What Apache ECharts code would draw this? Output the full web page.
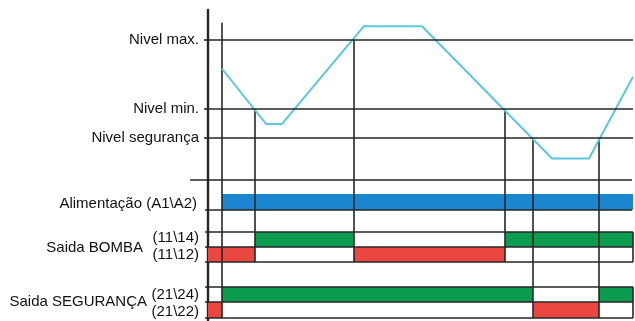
<!DOCTYPE html>
<html>
<head>
<meta charset="utf-8">
<script src="https://cdn.jsdelivr.net/npm/echarts@6/dist/echarts.min.js"></script>
<style>html,body{margin:0;padding:0;background:#fff}#c{width:635px;height:321px}</style>
</head>
<body>
<div id="c"></div>
<script>
// ---------- data ----------
const levelNames  = ['Nivel max.', 'Nivel min.', 'Nivel segurança'];
const levelValues = [100, 40, 15];
// water level curve: time, level
const curveTime  = [14, 58, 74, 156, 214, 344, 381, 425];
const curveLevel = [75, 27, 27, 112, 112, -3, -3, 68];
// switching events (time) and level where each marker starts
const eventTime  = [14, 47, 146, 297, 325, 391];
const eventLevel = [115, 40, 100, 40, 15, 15];
const eventGroup = [2, 1, 1, 1, 2, 2]; // 1 = BOMBA, 2 = SEGURANÇA
// output states (on intervals)
const supplyOn = [[14, 425]];
const pump1114 = [[47, 146], [297, 425]];
const pump1112 = [[0, 47], [146, 297]];
const safe2124 = [[14, 325], [391, 425]];
const safe2122 = [[0, 14], [325, 391]];
const rowLabels = ['Alimentação (A1\\A2)', 'Saida BOMBA', '(11\\14)', '(11\\12)', 'Saida SEGURANÇA', '(21\\24)', '(21\\22)'];

// ---------- layout ----------
const TMAX = 425;
const K = 1.15; // px per level unit
const G0_TOP = 10, G0_H = 170;
const LV_MAX = 100 + (40 - G0_TOP) / K;
const LV_MIN = 40 - (G0_TOP + G0_H - 109) / K;
const FONT = "'Liberation Sans',Arial,sans-serif";
const FS = 15;
const INK = '#262626';
const TXT = '#111111';
// row bands in grid1 (px offsets from grid1 top)
const rowBand = {
  supply: [14, 30], p14: [52, 67], p12: [67, 82], s24: [107, 122], s22: [122, 138]
};
const groupBottom = {1: 82, 2: 138};
const rowLabelPos = [24, 68, 58, 75, 122, 115, 132];

const bars = [];
supplyOn.forEach(d => bars.push([d[0], d[1], 'supply', '#1b86cf']));
pump1114.forEach(d => bars.push([d[0], d[1], 'p14', '#0c9c4f']));
pump1112.forEach(d => bars.push([d[0], d[1], 'p12', '#e9473f']));
safe2124.forEach(d => bars.push([d[0], d[1], 's24', '#0c9c4f']));
safe2122.forEach(d => bars.push([d[0], d[1], 's22', '#e9473f']));

const chart = echarts.init(document.getElementById('c'), null, {renderer: 'canvas'});

function line(p1, p2, w) {
  return {type: 'line', shape: {x1: p1[0], y1: p1[1], x2: p2[0], y2: p2[1]},
          style: {stroke: INK, lineWidth: w || 1.6}, silent: true};
}

chart.setOption({
  animation: false,
  grid: [
    {left: 208, width: 425, top: G0_TOP, height: G0_H, containLabel: false, outerBoundsMode: 'none'},
    {left: 208, width: 425, top: G0_TOP + G0_H, height: 321 - G0_TOP - G0_H, containLabel: false, outerBoundsMode: 'none'}
  ],
  xAxis: [
    {gridIndex: 0, type: 'value', min: 0, max: TMAX, show: false},
    {gridIndex: 1, type: 'value', min: 0, max: TMAX, show: false}
  ],
  yAxis: [
    {gridIndex: 0, type: 'value', min: LV_MIN, max: LV_MAX,
     axisLine: {show: true, lineStyle: {color: INK, width: 2.4}},
     axisTick: {show: true, customValues: levelValues, length: 4, lineStyle: {color: INK, width: 1.6}},
     splitLine: {show: false},
     axisLabel: {customValues: levelValues, margin: 9, color: TXT, fontFamily: FONT, fontSize: FS,
       hideOverlap: false, showMinLabel: true, showMaxLabel: true,
       formatter: v => levelNames[levelValues.indexOf(v)]}},
    {gridIndex: 1, type: 'value', min: 0, max: 321 - G0_TOP - G0_H, inverse: true,
     axisLine: {show: true, lineStyle: {color: INK, width: 2.4}},
     axisTick: {show: false}, splitLine: {show: false},
     axisLabel: {customValues: rowLabelPos, margin: 9, color: TXT, fontFamily: FONT, fontSize: FS,
       hideOverlap: false, showMinLabel: true, showMaxLabel: true,
       formatter: v => {
         const i = rowLabelPos.indexOf(v);
         if (i === 1) return '{b|' + rowLabels[i] + '}';
         if (i === 4) return '{s|' + rowLabels[i] + '}';
         if (i === 0) return '{a|' + rowLabels[i] + '}';
         return rowLabels[i];
       },
       rich: {
         a: {fontFamily: FONT, fontSize: FS, color: TXT, padding: [0, 2, 0, 0]},
         b: {fontFamily: FONT, fontSize: FS, color: TXT, padding: [0, 56, 0, 0]},
         s: {fontFamily: FONT, fontSize: FS, color: TXT, padding: [0, 52, 0, 0]}
       }}}
  ],
  series: [
    {type: 'line', xAxisIndex: 0, yAxisIndex: 0, data: curveTime.map((t, i) => [t, curveLevel[i]]),
     symbol: 'none', lineStyle: {color: '#5ac6e0', width: 2}, z: 3,
     markLine: {symbol: 'none', silent: true, label: {show: false},
       lineStyle: {color: INK, width: 1.6, type: 'solid'},
       data: levelValues.map(v => ({yAxis: v}))}},
    {type: 'custom', xAxisIndex: 0, yAxisIndex: 0, clip: false, z: 2,
     data: eventTime.map((t, i) => [t, eventLevel[i]]),
     renderItem: (params, api) => {
       const p = api.coord([api.value(0), api.value(1)]);
       const bottom = params.coordSys.y + params.coordSys.height;
       return line(p, [p[0], bottom]);
     }},
    {type: 'custom', xAxisIndex: 1, yAxisIndex: 1, clip: false, z: 2,
     data: bars,
     renderItem: (params, api) => {
       const d = bars[params.dataIndex];
       const band = rowBand[d[2]];
       const p1 = api.coord([d[0], band[0]]);
       const p2 = api.coord([d[1], band[1]]);
       return {type: 'rect', shape: {x: p1[0], y: p1[1], width: p2[0] - p1[0], height: p2[1] - p1[1]},
               style: {fill: d[3]}};
     }},
    {type: 'custom', xAxisIndex: 1, yAxisIndex: 1, clip: false, z: 4,
     data: [0],
     renderItem: (params, api) => {
       const c = (t, y) => api.coord([t, y]);
       const ch = [];
       ch.push(line(c(-18, 0), c(424, 0)));
       ch.push(line(c(-3, 30), c(424, 30)));
       [52, 67, 82, 107, 122, 138].forEach(y => ch.push(line(c(-3, y), c(TMAX, y))));
       ch.push(line(c(TMAX, 52), c(TMAX, 82)));
       ch.push(line(c(TMAX, 107), c(TMAX, 138)));
       return {type: 'group', children: ch};
     }},
    {type: 'custom', xAxisIndex: 1, yAxisIndex: 1, clip: false, z: 4,
     data: eventTime.map((t, i) => [t, groupBottom[eventGroup[i]]]),
     renderItem: (params, api) => {
       const p = api.coord([api.value(0), api.value(1)]);
       return line([p[0], params.coordSys.y], p);
     }}
  ]
});
</script>
</body>
</html>
